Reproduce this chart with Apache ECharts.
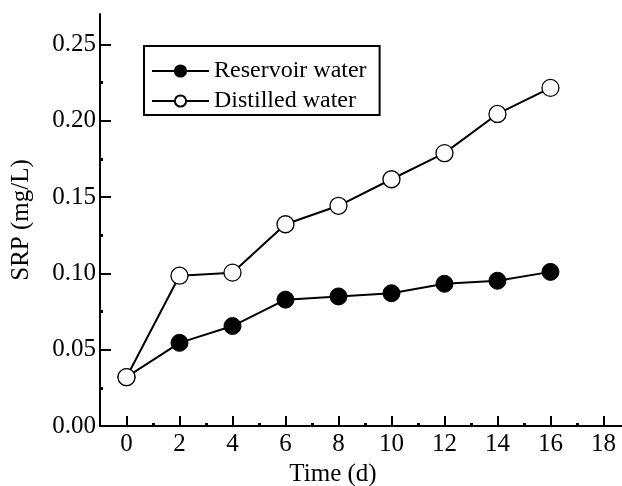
<!DOCTYPE html>
<html>
<head>
<meta charset="utf-8">
<script src="https://cdn.jsdelivr.net/npm/echarts@6/dist/echarts.min.js"></script>
<style>
html,body{margin:0;padding:0;background:#fff;}
#chart{width:622px;height:486px;}
</style>
</head>
<body>
<div id="chart"></div>
<script>
const days = [0, 2, 4, 6, 8, 10, 12, 14, 16];
const reservoirWater = [0.032, 0.0545, 0.0655, 0.0828, 0.0849, 0.087, 0.0932, 0.0952, 0.101];
const distilledWater = [0.032, 0.0985, 0.1005, 0.1322, 0.1443, 0.1617, 0.1788, 0.2045, 0.2216];
const xMajorTicks = [0, 2, 4, 6, 8, 10, 12, 14, 16, 18];
const xMinorTicks = [1, 3, 5, 7, 9, 11, 13, 15, 17];
const yMajorTicks = [0, 0.05, 0.10, 0.15, 0.20, 0.25];
const yMinorTicks = [0.025, 0.075, 0.125, 0.175, 0.225];
const seriesNames = ['Reservoir water', 'Distilled water'];

const FONT = '"Liberation Serif", "Times New Roman", serif';
const chart = echarts.init(document.getElementById('chart'), null, {renderer: 'canvas'});

const xRange = {min: -1, max: 18.7};
const yRange = {min: 0, max: 0.27};

chart.setOption({
  backgroundColor: '#fff',
  animation: false,
  grid: {left: 100, right: 0, top: 14, bottom: 60, containLabel: false, outerBoundsMode: 'none'},
  legend: {
    left: 144, top: 46, orient: 'vertical',
    borderColor: '#000', borderWidth: 2,
    padding: [13, 13, 2, 7],
    itemWidth: 57, itemHeight: 14, itemGap: 6,
    textStyle: {fontFamily: FONT, fontSize: 24, lineHeight: 24, color: '#000'},
    data: seriesNames
  },
  xAxis: [{
    type: 'value', min: xRange.min, max: xRange.max,
    name: 'Time (d)', nameLocation: 'middle', nameGap: 32,
    nameTextStyle: {fontFamily: FONT, fontSize: 25, color: '#000', padding: [0, 56, 0, 0]},
    axisLine: {show: true, onZero: false, lineStyle: {color: '#000', width: 2}},
    axisTick: {show: true, inside: true, length: 10, lineStyle: {color: '#000', width: 2}, customValues: xMajorTicks},
    axisLabel: {show: true, fontFamily: FONT, fontSize: 25, color: '#000', margin: 6, customValues: xMajorTicks},
    splitLine: {show: false}
  }, {
    type: 'value', min: xRange.min, max: xRange.max, position: 'bottom',
    axisLine: {show: false, onZero: false},
    axisTick: {show: true, inside: true, length: 3, lineStyle: {color: '#000', width: 3}, customValues: xMinorTicks},
    axisLabel: {show: false},
    splitLine: {show: false}
  }],
  yAxis: [{
    type: 'value', min: yRange.min, max: yRange.max,
    name: 'SRP (mg/L)', nameLocation: 'middle', nameGap: 66,
    nameTextStyle: {fontFamily: FONT, fontSize: 25, color: '#000'},
    axisLine: {show: true, onZero: false, lineStyle: {color: '#000', width: 2}},
    axisTick: {show: true, inside: true, length: 11, lineStyle: {color: '#000', width: 2}, customValues: yMajorTicks},
    axisLabel: {show: true, fontFamily: FONT, fontSize: 25, color: '#000', margin: 4,
      customValues: yMajorTicks, formatter: v => v.toFixed(2)},
    splitLine: {show: false}
  }, {
    type: 'value', min: yRange.min, max: yRange.max, position: 'left',
    axisLine: {show: false, onZero: false},
    axisTick: {show: true, inside: true, length: 3, lineStyle: {color: '#000', width: 3}, customValues: yMinorTicks},
    axisLabel: {show: false},
    splitLine: {show: false}
  }],
  series: [{
    name: seriesNames[0], type: 'line',
    data: days.map((d, i) => [d, reservoirWater[i]]),
    symbol: 'circle', symbolSize: 17,
    lineStyle: {color: '#000', width: 2},
    itemStyle: {color: '#000', borderColor: '#000', borderWidth: 1}
  }, {
    name: seriesNames[1], type: 'line',
    data: days.map((d, i) => [d, distilledWater[i]]),
    symbol: 'circle', symbolSize: 17,
    lineStyle: {color: '#000', width: 2},
    itemStyle: {color: '#fff', borderColor: '#000', borderWidth: 1.3}
  }]
});
</script>
</body>
</html>
